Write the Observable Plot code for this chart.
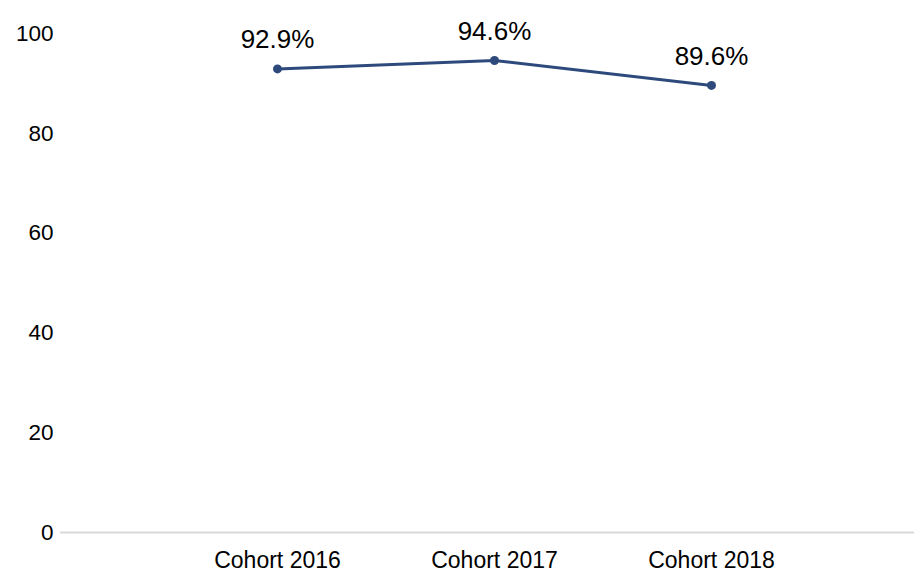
<!DOCTYPE html>
<html>
<head>
<meta charset="utf-8">
<script src="https://cdn.jsdelivr.net/npm/d3@7"></script>
<script src="https://cdn.jsdelivr.net/npm/@observablehq/plot@0.6"></script>
<style>
  html, body { margin: 0; padding: 0; background: #fff; }
  #chart svg { display: block; }
</style>
</head>
<body>
<div id="chart"></div>
<script>
const cohorts = ["Cohort 2016", "Cohort 2017", "Cohort 2018"];
const rates = [92.9, 94.6, 89.6];
const yTicks = [0, 20, 40, 60, 80, 100];

const data = cohorts.map((c, i) => ({cohort: c, rate: rates[i]}));
const lineColor = "#2e4a7d";

const chart = Plot.plot({
  width: 914,
  height: 571,
  marginLeft: 60,
  marginRight: 0,
  marginTop: 33,
  marginBottom: 39,
  style: {fontFamily: "'Liberation Sans', Arial, sans-serif", fontSize: "23px", color: "#000", background: "#fff", overflow: "visible"},
  x: {type: "point", domain: cohorts, range: [277, 711], padding: 0, label: null},
  y: {domain: [0, 100], label: null},
  marks: [
    Plot.ruleY([0], {stroke: "#d9d9d9", strokeWidth: 2}),
    Plot.axisY({ticks: yTicks, tickSize: 0, tickPadding: 7, fontSize: 22.5, label: null}),
    Plot.axisX({tickSize: 0, tickPadding: 19, fontSize: 23, label: null}),
    Plot.line(data, {x: "cohort", y: "rate", stroke: lineColor, strokeWidth: 3}),
    Plot.dot(data, {x: "cohort", y: "rate", r: 4.5, fill: lineColor, stroke: "none"}),
    Plot.text(data, {x: "cohort", y: "rate", text: d => d.rate.toFixed(1) + "%", dy: -29, fontSize: 26, fill: "#000"})
  ]
});
document.getElementById("chart").appendChild(chart);
</script>
</body>
</html>
